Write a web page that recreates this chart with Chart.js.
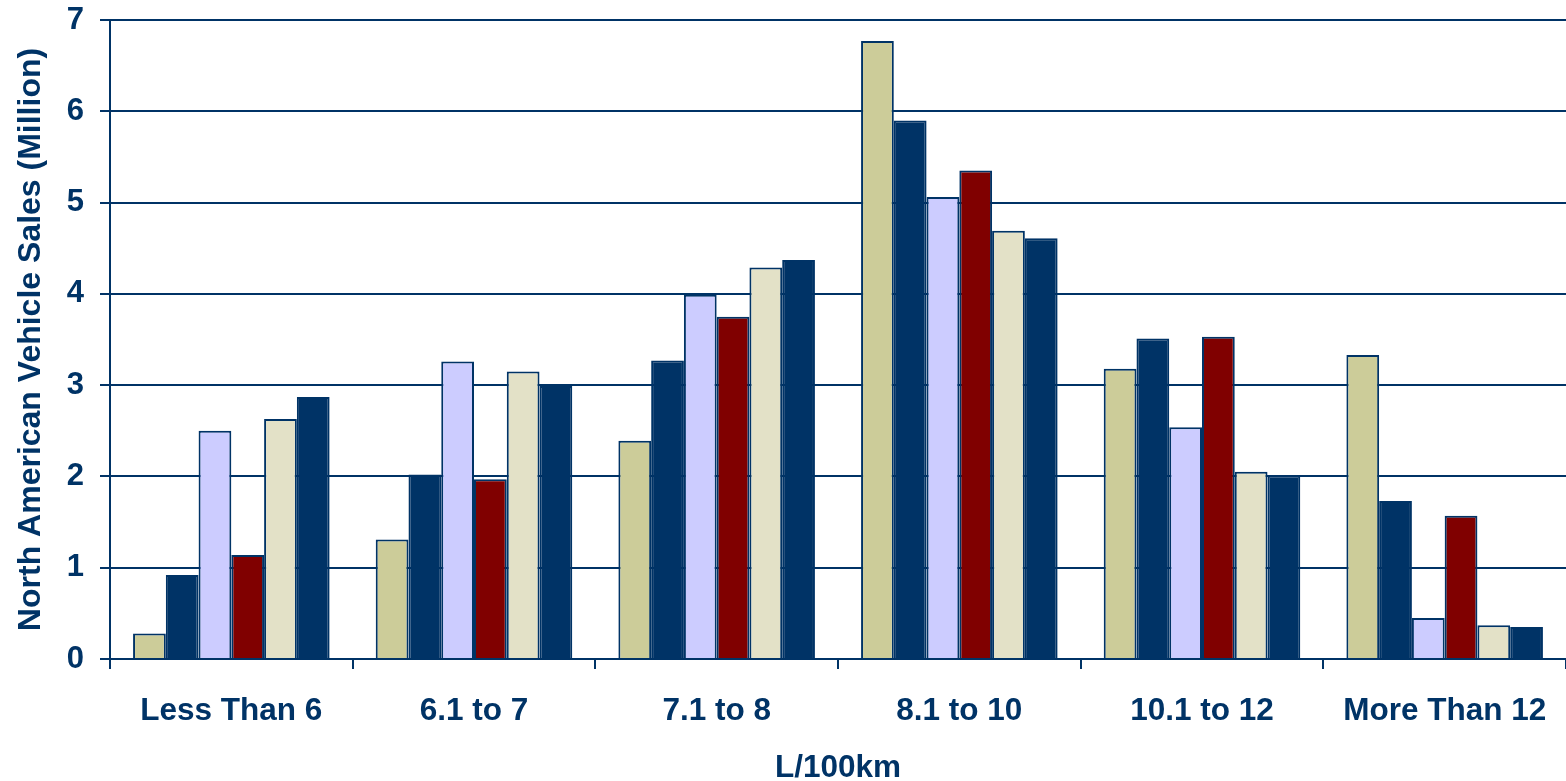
<!DOCTYPE html>
<html>
<head>
<meta charset="utf-8">
<title>North American Vehicle Sales by Fuel Consumption</title>
<script src="https://cdn.jsdelivr.net/npm/chart.js@4/dist/chart.umd.min.js"></script>
<style>
  html, body { margin: 0; padding: 0; background: #ffffff; }
  #wrap { width: 1566px; height: 781px; position: relative; }
</style>
</head>
<body>
<div id="wrap"><canvas id="chart" width="1566" height="781"></canvas></div>
<script>
// Fuel consumption bands (L/100km)
const categories = ['Less Than 6', '6.1 to 7', '7.1 to 8', '8.1 to 10', '10.1 to 12', 'More Than 12'];

// Sales in millions, one array per series
const series1 = [0.28, 1.31, 2.39, 6.77, 3.18, 3.33];
const series2 = [0.92, 2.02, 3.27, 5.90, 3.51, 1.73];
const series3 = [2.50, 3.26, 3.99, 5.06, 2.54, 0.45];
const series4 = [1.14, 1.97, 3.75, 5.35, 3.53, 1.57];
const series5 = [2.63, 3.15, 4.29, 4.69, 2.05, 0.37];
const series6 = [2.87, 2.99, 4.37, 4.61, 2.01, 0.35];

const yTicks = [0, 1, 2, 3, 4, 5, 6, 7];

const NAVY = '#003366';
const fills = ['#CCCC99', '#003366', '#CCCCFF', '#800000', '#E3E1C7', '#003366'];
const allSeries = [series1, series2, series3, series4, series5, series6];

const FONT = "'Liberation Sans', Arial, Helvetica, sans-serif";

// Keep the plot area fixed: no extra room reserved for edge tick labels
function noEdgePadding(scale) {
  scale.paddingTop = 0;
  scale.paddingBottom = 0;
  scale.paddingLeft = 0;
  scale.paddingRight = 0;
}

new Chart(document.getElementById('chart'), {
  type: 'bar',
  data: {
    labels: categories,
    datasets: allSeries.map((values, i) => ({
      label: 'Series ' + (i + 1),
      data: values,
      backgroundColor: fills[i],
      borderColor: NAVY,
      borderWidth: 2,
      borderSkipped: 'bottom',
      categoryPercentage: 0.81,
      barPercentage: 1.0
    }))
  },
  options: {
    responsive: false,
    animation: false,
    devicePixelRatio: 1,
    layout: { padding: { top: 20, right: 0, bottom: 0, left: 0 } },
    plugins: {
      legend: { display: false },
      tooltip: { enabled: false }
    },
    scales: {
      x: {
        grid: {
          display: true,
          drawOnChartArea: false,
          drawTicks: true,
          tickLength: 10,
          color: NAVY,
          lineWidth: 2,
          offset: true
        },
        border: { display: true, color: NAVY, width: 2 },
        ticks: {
          color: NAVY,
          padding: 23,
          maxRotation: 0,
          autoSkip: false,
          font: { family: FONT, size: 31.5, weight: 'bold' }
        },
        title: {
          display: true,
          text: 'L/100km',
          color: NAVY,
          padding: { top: 0, bottom: -3 },
          font: { family: FONT, size: 31.5, weight: 'bold', lineHeight: 1.0 }
        },
        afterFit: (scale) => { scale.height = 122; noEdgePadding(scale); }
      },
      y: {
        min: 0,
        max: 7,
        afterBuildTicks: (scale) => { scale.ticks = yTicks.map(v => ({ value: v })); },
        grid: {
          color: NAVY,
          lineWidth: 2,
          drawTicks: true,
          tickLength: 10
        },
        border: { display: true, color: NAVY, width: 2 },
        ticks: {
          color: NAVY,
          padding: 16,
          font: { family: FONT, size: 31, weight: 'bold' }
        },
        title: {
          display: true,
          text: 'North American Vehicle Sales (Million)',
          color: NAVY,
          padding: { top: 12, bottom: 0 },
          font: { family: FONT, size: 32, weight: 'bold' }
        },
        afterFit: (scale) => { scale.width = 110; noEdgePadding(scale); }
      }
    }
  }
});
</script>
</body>
</html>
